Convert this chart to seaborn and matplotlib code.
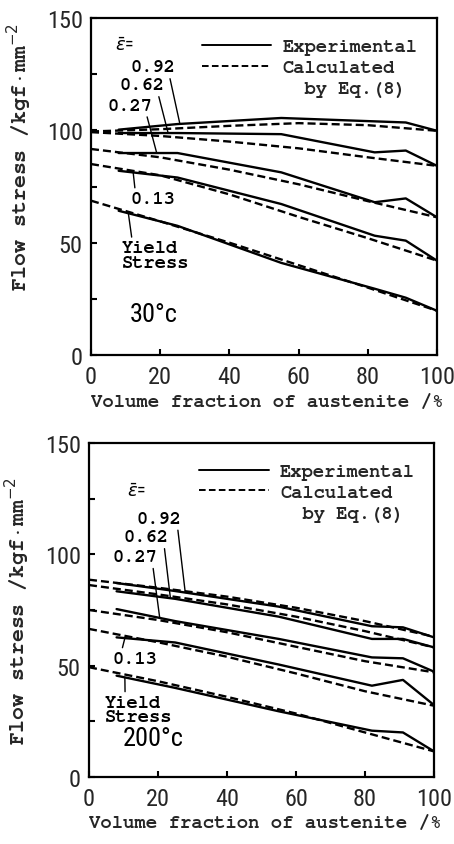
import numpy as np
import pandas as pd
import seaborn as sns
import matplotlib
matplotlib.use("Agg")
import matplotlib.pyplot as plt
from matplotlib.lines import Line2D
from matplotlib import font_manager as fm


def pick(cands):
    names = {f.name for f in fm.fontManager.ttflist}
    for c in cands:
        if c in names:
            return c
    return "DejaVu Sans"


mono = pick(["Nimbus Mono PS", "FreeMono", "Courier New", "Liberation Mono", "DejaVu Sans Mono"])
narrow = pick(["Liberation Sans Narrow", "Nimbus Sans Narrow", "Arial Narrow", "DejaVu Sans Condensed",
               "Roboto Condensed", "Noto Sans Condensed", "Open Sans Condensed"])
num_size = 17.5 if narrow != "DejaVu Sans" else 14

# volume fraction of austenite (%)
vf_exp = [8, 25, 55, 82, 91, 100]
vf_calc = [0, 20, 40, 60, 80, 100]
strains = ["0.92", "0.62", "0.27", "0.13", "yield"]

# 30 deg C, flow stress kgf/mm2
exp_30 = [
    [100.3, 102.8, 105.5, 104.0, 103.5, 99.8],
    [98.8, 98.8, 98.3, 90.2, 91.0, 84.2],
    [89.9, 89.9, 81.3, 68.0, 69.7, 61.3],
    [82.0, 79.0, 67.2, 53.1, 50.9, 42.0],
    [64.2, 57.5, 41.0, 29.5, 25.5, 19.7],
]
calc_30 = [
    [99.5, 100.5, 102.0, 103.2, 102.3, 99.8],
    [99.2, 97.5, 95.0, 92.0, 88.0, 84.2],
    [91.7, 88.0, 82.5, 76.0, 68.5, 61.3],
    [85.0, 80.0, 71.5, 61.5, 52.0, 42.0],
    [68.7, 59.5, 50.0, 40.0, 30.0, 19.7],
]

# 200 deg C
exp_200 = [
    [87.1, 83.5, 76.5, 67.7, 67.2, 62.7],
    [83.4, 80.0, 72.0, 62.0, 62.0, 58.2],
    [75.4, 70.0, 62.0, 53.7, 53.3, 47.3],
    [62.7, 60.4, 50.5, 41.0, 43.6, 32.3],
    [45.5, 40.0, 29.5, 20.8, 20.0, 11.5],
]
calc_200 = [
    [88.6, 85.0, 81.0, 76.0, 70.0, 63.0],
    [86.2, 82.0, 77.5, 72.0, 65.5, 58.2],
    [75.0, 70.5, 65.0, 58.5, 52.0, 47.0],
    [66.5, 60.5, 54.0, 46.5, 38.5, 32.0],
    [49.3, 43.0, 36.0, 28.5, 20.0, 11.5],
]


def long_df(exp, calc):
    parts = []
    for s, e, c in zip(strains, exp, calc):
        parts.append(pd.DataFrame({"vf": vf_exp, "stress": e, "strain": s, "kind": "Experimental"}))
        parts.append(pd.DataFrame({"vf": vf_calc, "stress": c, "strain": s, "kind": "Calculated"}))
    return pd.concat(parts, ignore_index=True)


sns.set_theme(style="ticks")
plt.rcParams["font.family"] = [narrow, "DejaVu Sans"]

fig = plt.figure(figsize=(4.54, 8.45), dpi=100)
ax1 = fig.add_axes([0.2004, 0.5787, 0.762, 0.3988])
ax2 = fig.add_axes([0.1960, 0.0793, 0.760, 0.3953])

dash = (3.4, 1.7)
txt = dict(family=mono, fontsize=13.5, color="black", fontweight="bold")


def panel(ax, exp, calc, ylab_y):
    df = long_df(exp, calc)
    sns.lineplot(data=df, x="vf", y="stress", units="strain", style="kind",
                 style_order=["Experimental", "Calculated"],
                 dashes={"Experimental": "", "Calculated": dash},
                 estimator=None, color="black", lw=1.7, legend=False, ax=ax)
    ax.set_xlim(0, 100)
    ax.set_ylim(0, 150)
    ax.set_xticks(range(0, 101, 20))
    ax.set_yticks([0, 50, 100, 150])
    ax.set_yticks([25, 75, 125], minor=True)
    ax.tick_params(which="both", direction="in", length=4, width=1.5, color="black")
    ax.tick_params(axis="x", labelsize=num_size, pad=7)
    ax.tick_params(axis="y", labelsize=num_size, pad=6)
    for sp in ax.spines.values():
        sp.set_linewidth(1.6)
        sp.set_color("black")
    ax.set_xlabel("Volume fraction of austenite /%", family=mono, fontsize=13.7,
                  fontweight="bold")
    ax.set_ylabel("Flow stress /kgf\u00b7mm$^{-2}$", family=mono, fontsize=15.5,
                  fontweight="bold")
    ax.yaxis.set_label_coords(-0.165, ylab_y)
    ax.xaxis.set_label_coords(0.51, -0.115)

    handles = [Line2D([], [], color="black", lw=1.4),
               Line2D([], [], color="black", lw=1.4, ls=(0, dash)),
               Line2D([], [], lw=0)]
    ax.legend(handles, ["Experimental", "Calculated", "  by Eq.(8)"],
              loc="upper left", bbox_to_anchor=(0.32, 0.94), frameon=False,
              handlelength=3.7, handletextpad=0.6, labelspacing=0.2,
              borderpad=0, borderaxespad=0,
              prop={"family": mono, "size": 13.5, "weight": "bold"})


def point(ax, label, exp_row, px, xytext, relpos, **kw):
    py = np.interp(px, vf_exp, exp_row)
    ax.annotate(label, xy=(px, py), xytext=xytext, textcoords="data",
                arrowprops=dict(arrowstyle="-", color="black", lw=1.0,
                                relpos=relpos, shrinkA=0, shrinkB=0),
                va="center", **txt, **kw)


# ---- 30 C
panel(ax1, exp_30, calc_30, 0.59)
ax1.text(6.9, 138, r"$\bar{\varepsilon}$=", fontsize=13, va="center", color="black")
point(ax1, "0.92", exp_30[0], 25.7, (18, 128), (0.85, 0.1), ha="center")
point(ax1, "0.62", exp_30[1], 22.3, (14.7, 120), (0.85, 0.1), ha="center")
point(ax1, "0.27", exp_30[2], 19.0, (11.3, 111), (0.85, 0.1), ha="center")
point(ax1, "0.13", exp_30[3], 12.2, (18, 69.4), (0.1, 0.95), ha="center")
point(ax1, "Yield\nStress", exp_30[4], 10.8, (9, 44.3), (0.15, 0.97),
      ha="left", linespacing=0.85)
ax1.text(18, 18.2, "30\u00b0c", fontsize=num_size + 1.5, ha="center", va="center", color="black")

# ---- 200 C
panel(ax2, exp_200, calc_200, 0.5)
ax2.text(11, 128.6, r"$\bar{\varepsilon}$=", fontsize=13, va="center", color="black")
point(ax2, "0.92", exp_200[0], 27.9, (20.4, 115.9), (0.9, 0.1), ha="center")
point(ax2, "0.62", exp_200[1], 23.6, (16.5, 107.6), (0.9, 0.1), ha="center")
point(ax2, "0.27", exp_200[2], 20.5, (13.2, 98.7), (0.9, 0.1), ha="center")
point(ax2, "0.13", exp_200[3], 10.4, (13.3, 53), (0.2, 0.95), ha="center")
point(ax2, "Yield\nStress", exp_200[4], 10.4, (4.6, 30.2), (0.3, 0.97),
      ha="left", linespacing=0.8)
ax2.text(18.5, 17.5, "200\u00b0c", fontsize=num_size + 1.5, ha="center", va="center", color="black")

fig.savefig("out.png", dpi=100, facecolor="white")
